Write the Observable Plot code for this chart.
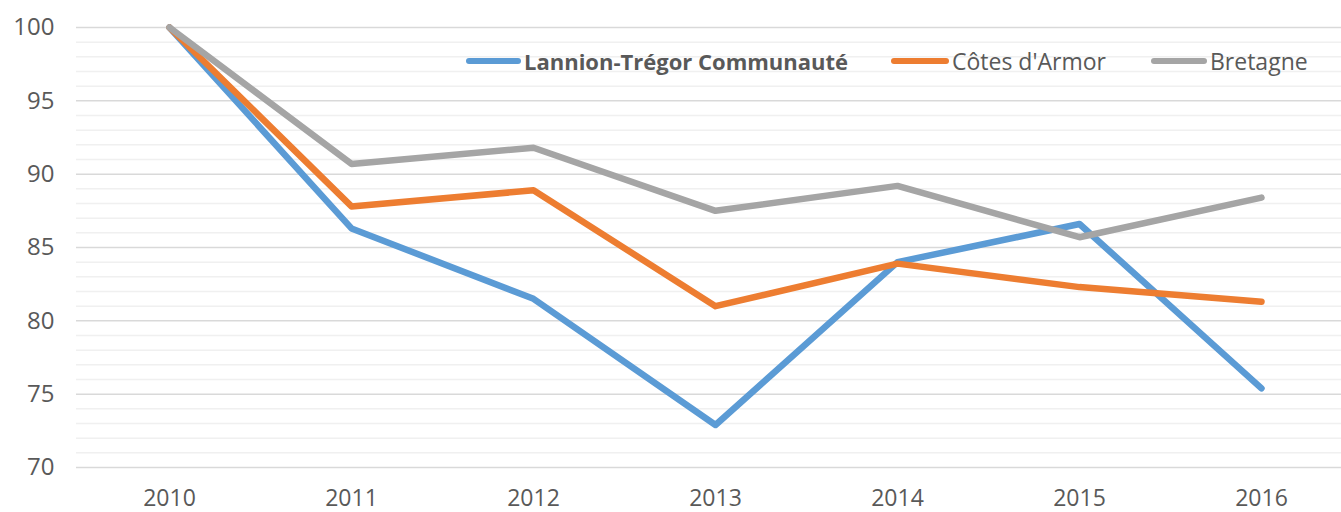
<!DOCTYPE html>
<html>
<head>
<meta charset="utf-8">
<script src="https://cdn.jsdelivr.net/npm/d3@7"></script>
<script src="https://cdn.jsdelivr.net/npm/@observablehq/plot@0.6"></script>
<style>
  html, body { margin: 0; padding: 0; background: #fff; }
  #wrap { position: relative; width: 1341px; height: 512px; font-family: "Open Sans", sans-serif; }
  .item { position: absolute; top: 44px; height: 34px; display: flex; align-items: center; color: #595959; white-space: nowrap; font-size: 23px; }
  .sw { height: 6px; border-radius: 3px; margin-right: 3px; }
</style>
</head>
<body>
<div id="wrap"></div>
<script>
const years = [2010, 2011, 2012, 2013, 2014, 2015, 2016];
const seriesNames = ["Lannion-Trégor Communauté", "Côtes d'Armor", "Bretagne"];
const colors = ["#5b9bd5", "#ed7d31", "#a5a5a5"];
const lannion = [100, 86.3, 81.5, 72.9, 84.0, 86.6, 75.4];
const cotes = [100, 87.8, 88.9, 81.0, 83.9, 82.3, 81.3];
const bretagne = [100, 90.7, 91.8, 87.5, 89.2, 85.7, 88.4];
const yTicks = [70, 75, 80, 85, 90, 95, 100];
const minorTicks = d3.range(70, 101).filter(v => v % 5 !== 0);

const allSeries = [lannion, cotes, bretagne];
const data = [];
allSeries.forEach((vals, i) => {
  vals.forEach((v, j) => data.push({ year: years[j], value: v, series: seriesNames[i] }));
});

const chart = Plot.plot({
  width: 1341,
  height: 512,
  marginLeft: 76,
  marginRight: 0,
  marginTop: 27,
  marginBottom: 45,
  style: { fontFamily: "Open Sans, sans-serif", background: "#fff", fontSize: "24px" },
  x: { type: "point", domain: years, range: [167, 1262], padding: 0 },
  y: { domain: [70, 100] },
  color: { domain: seriesNames, range: colors },
  marks: [
    Plot.ruleY(minorTicks, { stroke: "#f0f0f0", strokeWidth: 1.5 }),
    Plot.ruleY(yTicks, { stroke: "#d9d9d9", strokeWidth: 1.5 }),
    Plot.axisY(yTicks, { tickSize: 0, tickPadding: 22, fontSize: 24, fill: "#595959", label: null }),
    Plot.axisX(years, { tickSize: 0, tickPadding: 22, fontSize: 23, fill: "#595959", label: null, tickFormat: d => String(d) }),
    Plot.line(data, { x: "year", y: "value", z: "series", stroke: "series", strokeWidth: 6.5, strokeLinecap: "round", strokeLinejoin: "round" })
  ]
});

const wrap = document.getElementById("wrap");
wrap.appendChild(chart);

const itemLeft = [466, 891, 1151];
const swWidth = [55, 58, 56];
seriesNames.forEach((name, i) => {
  const item = document.createElement("div");
  item.className = "item";
  item.style.left = itemLeft[i] + "px";
  const sw = document.createElement("div");
  sw.className = "sw";
  sw.style.width = swWidth[i] + "px";
  sw.style.background = colors[i];
  const t = document.createElement("span");
  t.textContent = name;
  if (i === 0) { t.style.fontWeight = "bold"; t.style.fontSize = "22px"; }
  item.appendChild(sw);
  item.appendChild(t);
  wrap.appendChild(item);
});
</script>
</body>
</html>
